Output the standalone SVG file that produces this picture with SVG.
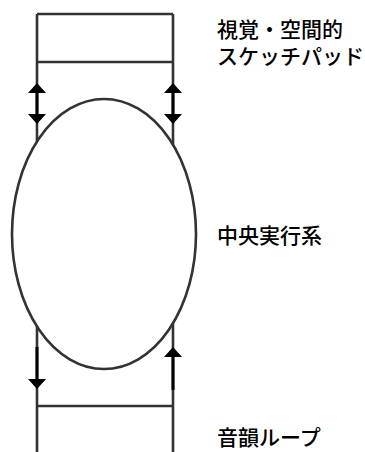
<svg xmlns="http://www.w3.org/2000/svg" width="365" height="452" viewBox="0 0 365 452">
<style>
.ln{fill:none;stroke:#333;stroke-width:2.6}
.el{fill:#fff;stroke:#333;stroke-width:2.6}
.ar{fill:none;stroke:#000;stroke-width:3}
.hd{fill:#000}
.t{font-family:"Noto Sans CJK JP","Noto Sans",sans-serif;font-size:21px;font-weight:500;fill:#000}
</style>
<g id="sketchpad">
<path class="ln" d="M37,14 H173 M37,62 H173 M37,14 V240 M173,14 V240"/>
<text class="t" x="217" y="37">視覚・空間的</text>
<text class="t" x="217" y="64">スケッチパッド</text>
</g>
<g id="loop">
<path class="ln" d="M37,406 H173 M37,240 V452 M173,240 V452"/>
<text class="t" x="217" y="445">音韻ループ</text>
</g>
<g id="central">
<ellipse class="el" cx="104" cy="234" rx="92" ry="135"/>
<text class="t" x="217" y="243">中央実行系</text>
</g>
<g id="connectors">
<path class="ar" d="M37,92 V115"/>
<path class="ar" d="M173,92 V115"/>
<path class="ar" d="M37,347 V381"/>
<path class="ar" d="M173,390 V357"/>
<path class="hd" d="M37,83 L46,93 L28,93 Z M37,124 L46,114 L28,114 Z M173,83 L182,93 L164,93 Z M173,124 L182,114 L164,114 Z M37,389 L46,379 L28,379 Z M173,347 L182,357 L164,357 Z"/>
</g>
</svg>
